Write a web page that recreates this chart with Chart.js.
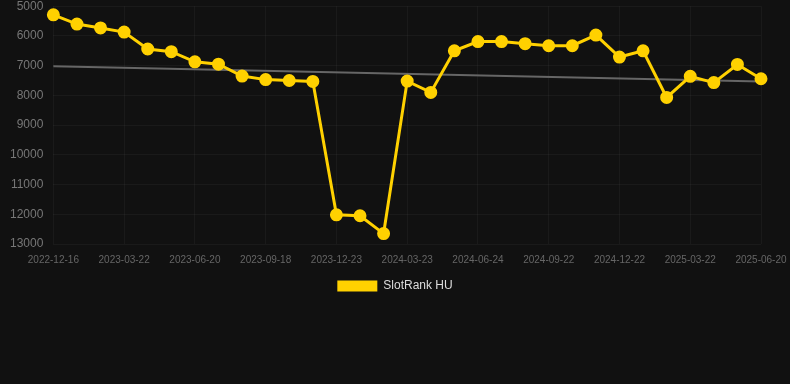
<!DOCTYPE html>
<html>
<head>
<meta charset="utf-8">
<script src="https://cdn.jsdelivr.net/npm/chart.js@4/dist/chart.umd.min.js"></script>
<style>
  html, body { margin: 0; padding: 0; background: #111111; overflow: hidden; }
  .chart-container { position: relative; width: 790px; height: 313px; margin-top: -11px; }
</style>
</head>
<body>
<div class="chart-container">
  <canvas id="chart" aria-label="SlotRank HU chart" role="img"></canvas>
</div>
<script>
const dates = [
  '2022-12-16', '2023-01-17', '2023-02-18', '2023-03-22', '2023-04-21', '2023-05-21',
  '2023-06-20', '2023-07-20', '2023-08-19', '2023-09-18', '2023-10-20', '2023-11-21',
  '2023-12-23', '2024-01-22', '2024-02-22', '2024-03-23', '2024-04-24', '2024-05-24',
  '2024-06-24', '2024-07-24', '2024-08-23', '2024-09-22', '2024-10-22', '2024-11-22',
  '2024-12-22', '2025-01-21', '2025-02-20', '2025-03-22', '2025-04-21', '2025-05-21',
  '2025-06-20',
];

const rankHU = [
  5290, 5600, 5730, 5870, 6440, 6530, 6870, 6950, 7350, 7470, 7500, 7530,
  12020, 12050, 12650, 7520, 7900, 6500, 6190, 6190, 6260, 6330, 6330, 5970,
  6710, 6500, 8070, 7360, 7570, 6960, 7440,
];

const yTicks = [5000, 6000, 7000, 8000, 9000, 10000, 11000, 12000, 13000];

// least squares trend over the series
const trend = (() => {
  const n = rankHU.length;
  let sx = 0, sy = 0, sxy = 0, sxx = 0;
  rankHU.forEach((v, i) => { sx += i; sy += v; sxy += i * v; sxx += i * i; });
  const slope = (n * sxy - sx * sy) / (n * sxx - sx * sx);
  const icpt = (sy - slope * sx) / n;
  return rankHU.map((v, i) => (i === 0 || i === n - 1 ? icpt + slope * i : null));
})();

const canvasNode = document.getElementById('chart');
new Chart(canvasNode, {
  type: 'line',
  data: {
    labels: dates,
    datasets: [
      {
        label: 'SlotRank HU',
        data: rankHU,
        borderColor: '#ffd100',
        backgroundColor: '#ffd100',
        borderWidth: 3,
        pointRadius: 5,
        pointHoverRadius: 5,
        pointBackgroundColor: '#ffd100',
        pointBorderColor: '#ffd100',
        tension: 0,
        order: 1,
      },
      {
        label: 'trend',
        data: trend,
        borderColor: '#666666',
        borderWidth: 2,
        pointRadius: 0,
        spanGaps: true,
        fill: false,
        order: 2,
      },
    ],
  },
  options: {
    responsive: true,
    maintainAspectRatio: false,
    animation: false,
    scales: {
      x: {
        offset: false,
        grid: { color: 'rgba(255,255,255,0.04)', drawTicks: false },
        border: { display: false },
        afterFit(scale) {
          scale.paddingRight = 29; // last label just fits
        },
        ticks: {
          autoSkip: false,
          maxRotation: 0,
          padding: 10,
          color: '#666666',
          font: { size: 10, family: 'Liberation Sans, Arial, sans-serif' },
          callback(value, idx) {
            return idx % 3 === 0 ? dates[idx] : null;
          },
        },
      },
      y: {
        reverse: true,
        min: yTicks[0],
        max: yTicks[yTicks.length - 1],
        afterBuildTicks(axis) {
          axis.ticks = yTicks.map(v => ({ value: v }));
        },
        grid: { color: 'rgba(255,255,255,0.04)', drawTicks: false },
        border: { display: false },
        ticks: {
          padding: 10,
          color: '#777777',
          font: { size: 12, family: 'Liberation Sans, Arial, sans-serif' },
          callback: value => String(value),
        },
      },
    },
    plugins: {
      tooltip: { enabled: false },
      legend: {
        position: 'bottom',
        labels: {
          color: '#dddddd',
          boxWidth: 40,
          boxHeight: 11,
          padding: 4,
          font: { size: 12, family: 'Liberation Sans, Arial, sans-serif' },
          generateLabels(chart) {
            const items = Chart.defaults.plugins.legend.labels.generateLabels(chart);
            return items
              .filter(item => item.text !== 'trend')
              .map(item => ({ ...item, lineWidth: 0 }));
          },
        },
      },
    },
  },
});
</script>
</body>
</html>
